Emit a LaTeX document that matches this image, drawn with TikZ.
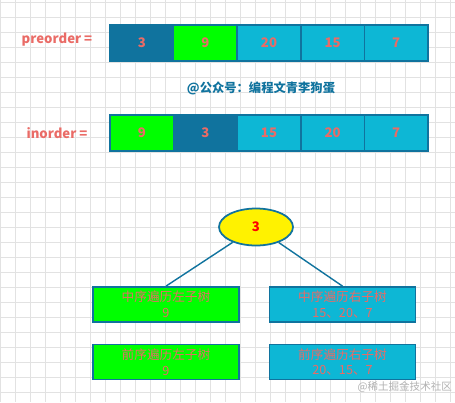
\documentclass[tikz,border=0pt]{standalone}
\usepackage{fontspec}
\setmainfont{Noto Sans CJK SC}
\usetikzlibrary{shapes.geometric}
\definecolor{darkblue}{HTML}{10739E}
\definecolor{cellcyan}{HTML}{0DB7D5}
\definecolor{cellgreen}{HTML}{00FF00}
\definecolor{salmon}{HTML}{EA6B66}
\definecolor{gridgray}{HTML}{E2E2E2}
\begin{document}
\begin{tikzpicture}[
    x=0.02cm, y=-0.02cm,
    cell/.style={
        draw=darkblue,
        line width=1pt,
        minimum width=1.272cm,
        minimum height=0.72cm,
        inner sep=0pt,
        text=salmon,
        font=\fontsize{7.5}{9}\selectfont\bfseries
    },
    label/.style={text=salmon, font=\fontsize{7.5}{9}\selectfont\bfseries},
    box/.style={
        draw=darkblue,
        line width=1pt,
        minimum width=2.92cm,
        minimum height=0.7cm,
        inner sep=0pt,
        align=center,
        text=salmon,
        font=\fontsize{7.2}{9}\selectfont
    },
    link/.style={draw=darkblue, line width=0.8pt}
]
\useasboundingbox (0,0) rectangle (455,402);
\fill[white] (0,0) rectangle (455,402);
\foreach \gx in {0,15,...,450}
    \draw[gridgray, line width=0.4pt] (\gx,0) -- (\gx,402);
\foreach \gy in {2,17,...,392}
    \draw[gridgray, line width=0.4pt] (0,\gy) -- (455,\gy);

%==========================
% preorder
%==========================
\node[label] (prelabel) at (57,40) {preorder =};

\node[cell, fill=darkblue]  (p1) at (141.8,43) {3};
\node[cell, fill=cellgreen] (p2) at (205.4,43) {9};
\node[cell, fill=cellcyan]  (p3) at (269.0,43) {20};
\node[cell, fill=cellcyan]  (p4) at (332.6,43) {15};
\node[cell, fill=cellcyan]  (p5) at (396.2,43) {7};

\node[text=darkblue, font=\fontsize{7}{9}\selectfont\bfseries] (mark) at (261,88)
{@公众号：编程文青李狗蛋};

%==========================
% inorder
%==========================
\node[label] (inlabel) at (57,133) {inorder =};

\node[cell, fill=cellgreen] (i1) at (141.8,133) {9};
\node[cell, fill=darkblue]  (i2) at (205.4,133) {3};
\node[cell, fill=cellcyan]  (i3) at (269.0,133) {15};
\node[cell, fill=cellcyan]  (i4) at (332.6,133) {20};
\node[cell, fill=cellcyan]  (i5) at (396.2,133) {7};

%==========================
% root and subtrees
%==========================
\node[ellipse, draw=darkblue, line width=1pt, fill=yellow,
      minimum width=1.48cm, minimum height=0.74cm,
      text=red, font=\fontsize{7.5}{9}\selectfont\bfseries] (root) at (256,227) {3};

\node[box, fill=cellgreen] (inleft)   at (166,304.5) {中序遍历左子树\\9};
\node[box, fill=cellcyan]  (inright)  at (342.5,304.5) {中序遍历右子树\\15、20、7};
\node[box, fill=cellgreen] (preleft)  at (166,362) {前序遍历左子树\\9};
\node[box, fill=cellcyan]  (preright) at (342.5,362) {前序遍历右子树\\20、15、7};

\draw[link] (root) -- (inleft.north);
\draw[link] (root) -- (inright.north);

\node[anchor=east, inner sep=1pt, text=gray!60, font=\fontsize{6}{8}\selectfont] (juejin) at (454,387)
{@稀土掘金技术社区};

\end{tikzpicture}
\end{document}
